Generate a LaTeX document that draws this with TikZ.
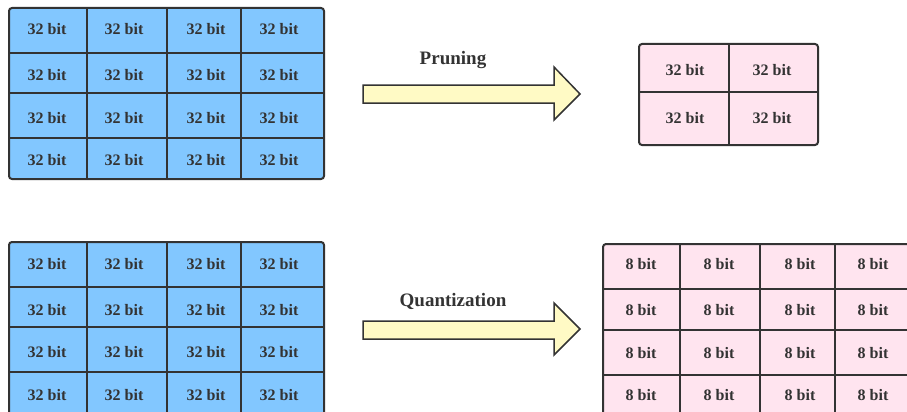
\documentclass[tikz,border=0pt]{standalone}
\usepackage{fontspec}
\setmainfont{Liberation Serif}
\definecolor{cellblue}{RGB}{130,199,255}
\definecolor{cellpink}{RGB}{255,228,239}
\definecolor{arrowfill}{RGB}{255,250,197}
\definecolor{ink}{RGB}{51,51,51}
\tikzset{
  gridframe/.style={draw=ink, line width=2pt, rounded corners=3pt},
  gridline/.style={draw=ink, line width=1.5pt},
  celltext/.style={text=ink, font=\bfseries\fontsize{16}{16}\selectfont, inner sep=0pt},
  steplabel/.style={text=ink, font=\bfseries\fontsize{19}{19}\selectfont, inner sep=0pt},
  bigarrow/.style={draw=ink, line width=1.5pt, fill=arrowfill, line join=miter},
}
\begin{document}
\begin{tikzpicture}[x=1pt, y=-1pt]
\useasboundingbox (0,0) rectangle (907,412);

% ---- top left: full 32-bit matrix ----
\fill[cellblue, rounded corners=3pt] (9,8) rectangle (324,179);
\foreach \x in {87,167,241} \draw[gridline] (\x,8) -- (\x,179);
\foreach \y in {53,93,138} \draw[gridline] (9,\y) -- (324,\y);
\draw[gridframe] (9,8) rectangle (324,179);
\foreach \cx [count=\i] in {47,124,206,279}
  \foreach \cy [count=\j] in {29,75,118,160}
    \node[celltext] (tl-\j-\i) at (\cx,\cy) {32 bit};

% ---- pruning arrow ----
\draw[bigarrow] (363,85) -- (554,85) -- (554,67) -- (580,94) -- (554,120)
  -- (554,103) -- (363,103) -- cycle;
\node[steplabel] (prune) at (453,60) {Pruning};

% ---- top right: pruned 32-bit matrix ----
\fill[cellpink, rounded corners=3pt] (639,44) rectangle (818,145);
\draw[gridline] (729,44) -- (729,145);
\draw[gridline] (639,92) -- (818,92);
\draw[gridframe] (639,44) rectangle (818,145);
\foreach \cx [count=\i] in {685,772}
  \foreach \cy [count=\j] in {70,118}
    \node[celltext] (tr-\j-\i) at (\cx,\cy) {32 bit};

% ---- bottom left: full 32-bit matrix ----
\fill[cellblue, rounded corners=3pt] (9,242) rectangle (324,420);
\foreach \x in {87,167,241} \draw[gridline] (\x,242) -- (\x,420);
\foreach \y in {287,327,372} \draw[gridline] (9,\y) -- (324,\y);
\draw[gridframe] (9,242) rectangle (324,420);
\foreach \cx [count=\i] in {47,124,206,279}
  \foreach \cy [count=\j] in {264,310,352,395}
    \node[celltext] (bl-\j-\i) at (\cx,\cy) {32 bit};

% ---- quantization arrow ----
\draw[bigarrow] (363,321) -- (554,321) -- (554,303) -- (580,329) -- (554,355)
  -- (554,339) -- (363,339) -- cycle;
\node[steplabel] (quant) at (453,301) {Quantization};

% ---- bottom right: quantized 8-bit matrix ----
\fill[cellpink, rounded corners=3pt] (603,244) rectangle (915,420);
\foreach \x in {680,760,835} \draw[gridline] (\x,244) -- (\x,420);
\foreach \y in {289,330,375} \draw[gridline] (603,\y) -- (915,\y);
\draw[gridframe] (603,244) rectangle (915,420);
\foreach \cx [count=\i] in {641,719,800,873}
  \foreach \cy [count=\j] in {264,310,353,395}
    \node[celltext] (br-\j-\i) at (\cx,\cy) {8 bit};
\end{tikzpicture}
\end{document}
